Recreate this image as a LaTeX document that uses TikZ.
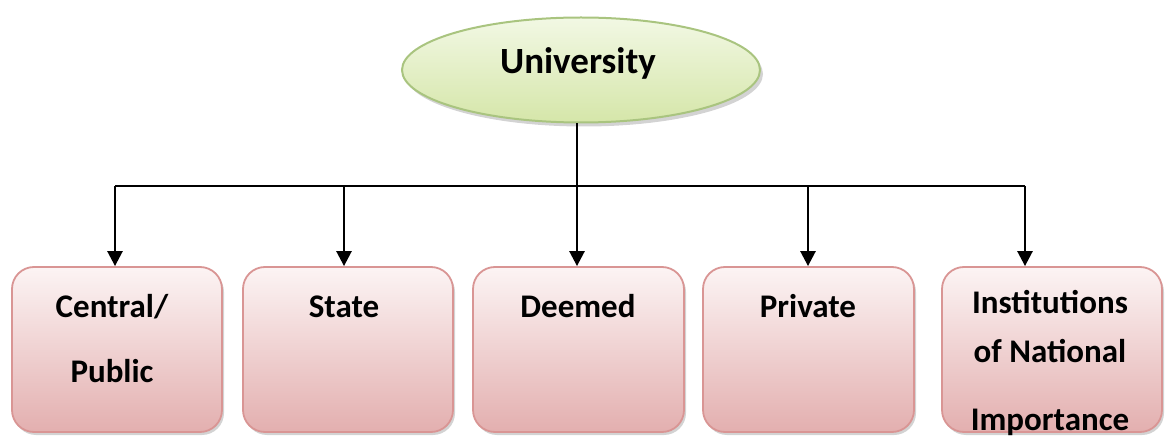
\documentclass[tikz,border=0pt]{standalone}
\usepackage{fontspec}
\setmainfont{Carlito}
\usetikzlibrary{shapes.geometric,arrows.meta,shadows}
\definecolor{ellborder}{HTML}{A9C47F}
\definecolor{elltop}{HTML}{F2F8E4}
\definecolor{ellbot}{HTML}{D5E6A9}
\definecolor{boxborder}{HTML}{D99594}
\definecolor{boxtop}{HTML}{FCF4F4}
\definecolor{boxbot}{HTML}{E3AFAF}
\tikzset{
  lbl/.style={font=\fontsize{33}{36}\selectfont\bfseries, anchor=base, inner sep=0pt},
  biglbl/.style={lbl, font=\fontsize{37}{40}\selectfont\bfseries},
  catbox/.style={draw=boxborder, line width=1.8pt, rounded corners=22pt,
    top color=boxtop, bottom color=boxbot, minimum height=165pt,
    drop shadow={shadow xshift=2pt, shadow yshift=-3pt, opacity=0.35}},
  topell/.style={ellipse, draw=ellborder, line width=2pt,
    top color=elltop, bottom color=ellbot, minimum width=358pt, minimum height=105pt,
    drop shadow={shadow xshift=3pt, shadow yshift=-4pt, opacity=0.35}},
  conn/.style={line width=2.6pt, black},
  arr/.style={conn, -{Triangle[width=15pt,length=15pt]}}
}
\begin{document}
\begin{tikzpicture}[x=1pt,y=1pt]
\useasboundingbox (0,0) rectangle (1168,437);
% top ellipse
\node[topell] (uni) at (581,367) {};
\node[biglbl] (unit) at (578,363) {University};
% category boxes
\node[catbox, minimum width=210pt] (b1) at (117,87.5) {};
\node[catbox, minimum width=210pt] (b2) at (348,87.5) {};
\node[catbox, minimum width=211pt] (b3) at (578.5,87.5) {};
\node[catbox, minimum width=211pt] (b4) at (808.5,87.5) {};
\node[catbox, minimum width=220pt] (b5) at (1052,87.5) {};
% labels
\node[lbl] (t1a) at (112,120) {Central/};
\node[lbl] (t1b) at (112,55) {Public};
\node[lbl] (t2) at (344,120) {State};
\node[lbl] (t3) at (578,120) {Deemed};
\node[lbl] (t4) at (808,120) {Private};
\node[lbl] (t5a) at (1050,124) {Institutions};
\node[lbl] (t5b) at (1050,75) {of National};
\node[lbl] (t5c) at (1050,7) {Importance};
% connectors
\coordinate (j) at (577,251);
\coordinate (h1) at (115,251);
\coordinate (h2) at (344,251);
\coordinate (h4) at (808,251);
\coordinate (h5) at (1025,251);
\draw[conn] (uni.south -| j) -- (j);
\draw[conn] (h1) -- (h5);
\draw[arr] (h1) -- (h1 |- b1.north);
\draw[arr] (h2) -- (h2 |- b2.north);
\draw[arr] (j) -- (j |- b3.north);
\draw[arr] (h4) -- (h4 |- b4.north);
\draw[arr] (h5) -- (h5 |- b5.north);
\end{tikzpicture}
\end{document}
